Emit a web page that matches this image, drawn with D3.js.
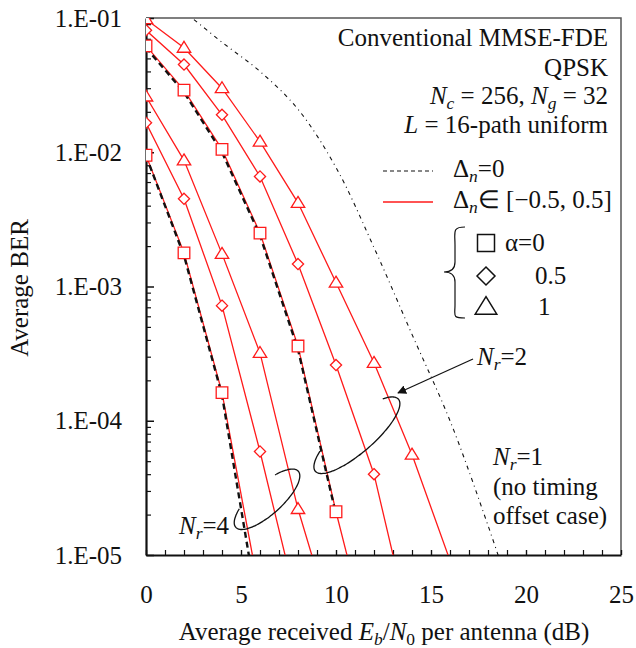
<!DOCTYPE html>
<html>
<head>
<meta charset="utf-8">
<script src="https://cdn.jsdelivr.net/npm/d3@7"></script>
<style>
  body { margin: 0; background: #fff; }
</style>
</head>
<body>
<svg width="636" height="648"></svg>
<script>
const svg = d3.select("svg");
const serif = "'Liberation Serif', serif";

// Eb/N0 grid (dB) used by the simulated curves
const snrDb = [0, 2, 4, 6, 8, 10, 12, 14, 16];
// Nr = 4, delta_n in [-0.5, 0.5]
const nr4Alpha0 = [9.5e-3, 1.78e-3, 1.62e-4, 5e-6];
const nr4Alpha05 = [1.66e-2, 4.5e-3, 7.2e-4, 5.9e-5, 4e-6];
const nr4Alpha1 = [2.6e-2, 8.7e-3, 1.75e-3, 3.2e-4, 2.2e-5, 2.5e-6];
// Nr = 2, delta_n in [-0.5, 0.5]
const nr2Alpha0 = [6.2e-2, 2.9e-2, 1.05e-2, 2.5e-3, 3.6e-4, 2.1e-5, 1.6e-6];
const nr2Alpha05 = [8.1e-2, 4.5e-2, 1.9e-2, 6.6e-3, 1.47e-3, 2.6e-4, 4.0e-5, 2.5e-6];
const nr2Alpha1 = [9.8e-2, 6.0e-2, 3.0e-2, 1.2e-2, 4.2e-3, 1.07e-3, 2.7e-4, 5.6e-5, 9.1e-6];
// delta_n = 0 (dashed)
const nr4Ideal = [9.4e-3, 1.7e-3, 1.55e-4, 3.2e-6];
const nr2Ideal = [6.0e-2, 2.8e-2, 1.0e-2, 2.4e-3, 3.4e-4, 2.0e-5];
// Nr = 1, no timing offset (dash-dot)
const nr1Snr = [2, 4, 6, 8, 10, 12, 14, 16, 18, 19];
const nr1Ber = [0.112, 0.066, 0.040, 0.0209, 7.7e-3, 1.95e-3, 4.4e-4, 1.0e-4, 1.66e-5, 6.3e-6];

const xTicks = [0, 5, 10, 15, 20, 25];
const yTicks = [1e-1, 1e-2, 1e-3, 1e-4, 1e-5];
const yTickLabels = ["1.E-01", "1.E-02", "1.E-03", "1.E-04", "1.E-05"];

const plotL = 146, plotR = 621, plotT = 18, plotB = 555;
const x = d3.scaleLinear().domain([0, 25]).range([plotL, plotR]);
const y = d3.scaleLog().domain([1e-5, 1e-1]).range([plotB, plotT]);
const ink = "#111";

const defs = svg.append("defs");
defs.append("clipPath").attr("id", "plot")
  .append("rect").attr("x", plotL).attr("y", plotT)
  .attr("width", plotR - plotL).attr("height", plotB - plotT);

// frame (top / right)
svg.append("path")
  .attr("d", `M${plotL},${plotT}H${plotR}V${plotB}`)
  .attr("fill", "none").attr("stroke", "#555").attr("stroke-width", 1.5);

function styleAxis(g) {
  g.selectAll("text").attr("font-size", 25).attr("fill", ink);
}

// x axis
const minorX = d3.range(0, 26);
svg.append("g").attr("transform", `translate(0,${plotB})`)
  .call(d3.axisBottom(x).tickValues(minorX).tickSize(-5).tickFormat(""))
  .call(g => g.select(".domain").remove())
  .call(g => g.selectAll("line").attr("stroke", ink).attr("stroke-width", 1.2));
svg.append("g").attr("transform", `translate(0,${plotB})`)
  .call(d3.axisBottom(x).tickValues(xTicks).tickSize(-5).tickSizeOuter(0).tickPadding(30).tickFormat(d3.format("d")))
  .call(styleAxis)
  .call(g => g.select(".domain").attr("stroke", ink).attr("stroke-width", 2.2))
  .call(g => g.selectAll("line").attr("stroke", ink).attr("stroke-width", 1.2));

// y axis
const minorY = [];
[1e-5, 1e-4, 1e-3, 1e-2].forEach(d => d3.range(2, 10).forEach(k => minorY.push(d * k)));
svg.append("g").attr("transform", `translate(${plotL},0)`)
  .call(d3.axisLeft(y).tickValues(minorY).tickSize(-5).tickFormat(""))
  .call(g => g.select(".domain").remove())
  .call(g => g.selectAll("line").attr("stroke", ink).attr("stroke-width", 1.2));
svg.append("g").attr("transform", `translate(${plotL},0)`)
  .call(d3.axisLeft(y).tickValues(yTicks).tickSize(-8).tickSizeOuter(0).tickPadding(24)
    .tickFormat((d, i) => yTickLabels[i]))
  .call(styleAxis)
  .call(g => g.select(".domain").attr("stroke", ink).attr("stroke-width", 2.2))
  .call(g => g.selectAll("line").attr("stroke", ink).attr("stroke-width", 1.5));

// axis titles
svg.append("text")
  .attr("transform", "translate(28,288) rotate(-90)")
  .attr("text-anchor", "middle").attr("font-size", 25).attr("fill", ink)
  .text("Average BER");

function rich(sel, parts) {
  sel.attr("fill", ink);
  parts.forEach(p => {
    const t = sel.append("tspan").text(p.t);
    if (p.i) t.attr("font-style", "italic");
    if (p.sub) t.attr("font-size", "0.7em").attr("dy", "0.28em");
    if (p.up) t.attr("dy", "-0.196em");
  });
  return sel;
}

rich(svg.append("text").attr("x", 384).attr("y", 640).attr("text-anchor", "middle").attr("font-size", 25), [
  { t: "Average received " }, { t: "E", i: true }, { t: "b", i: true, sub: true },
  { t: "/", up: true }, { t: "N", i: true }, { t: "0", sub: true },
  { t: " per antenna (dB)", up: true }
]);

// curves
const line = d3.line().x(d => x(d[0])).y(d => y(d[1]));
const smooth = d3.line().curve(d3.curveCatmullRom).x(d => x(d[0])).y(d => y(d[1]));
const pairs = (xs, ys) => ys.map((v, i) => [xs[i], v]);
const plot = svg.append("g").attr("clip-path", "url(#plot)");

const redSeries = [
  { v: nr4Alpha0, m: "square" }, { v: nr4Alpha05, m: "diamond" }, { v: nr4Alpha1, m: "triangle" },
  { v: nr2Alpha0, m: "square" }, { v: nr2Alpha05, m: "diamond" }, { v: nr2Alpha1, m: "triangle" }
];

plot.append("path").datum(pairs(nr1Snr, nr1Ber)).attr("d", smooth)
  .attr("fill", "none").attr("stroke", ink).attr("stroke-width", 1.1)
  .attr("stroke-dasharray", "4,4,1,4");

plot.selectAll(".red").data(redSeries).enter().append("path")
  .attr("d", s => line(pairs(snrDb, s.v)))
  .attr("fill", "none").attr("stroke", "#ff1a1a").attr("stroke-width", 1.3);

plot.selectAll(".ideal").data([nr4Ideal, nr2Ideal]).enter().append("path")
  .attr("d", v => line(pairs(snrDb, v)))
  .attr("fill", "none").attr("stroke", ink).attr("stroke-width", 2.4)
  .attr("stroke-dasharray", "6,4");

function markerPath(type, s) {
  if (type === "square") return `M${-s},${-s}H${s}V${s}H${-s}Z`;
  if (type === "diamond") return `M0,${-s}L${s},0L0,${s}L${-s},0Z`;
  return `M0,${-s * 1.15}L${s * 1.2},${s * 0.8}L${-s * 1.2},${s * 0.8}Z`;
}
const sizes = { square: 5.8, diamond: 5.6, triangle: 5.6 };

redSeries.forEach(s => {
  plot.selectAll(null).data(pairs(snrDb, s.v).filter(d => d[1] >= 1e-5)).enter()
    .append("path")
    .attr("transform", d => `translate(${x(d[0])},${y(d[1])})`)
    .attr("d", markerPath(s.m, sizes[s.m]))
    .attr("fill", "#fff").attr("stroke", "#ff1a1a").attr("stroke-width", 1.3);
});

// text block
const info = svg.append("g").attr("font-size", 25).attr("fill", ink);
info.append("text").attr("x", 608).attr("y", 46).attr("text-anchor", "end").text("Conventional MMSE-FDE");
info.append("text").attr("x", 608).attr("y", 76).attr("text-anchor", "end").text("QPSK");
rich(info.append("text").attr("x", 608).attr("y", 104).attr("text-anchor", "end"), [
  { t: "N", i: true }, { t: "c", i: true, sub: true }, { t: " = 256, ", up: true },
  { t: "N", i: true }, { t: "g", i: true, sub: true }, { t: " = 32", up: true }
]);
rich(info.append("text").attr("x", 608).attr("y", 133).attr("text-anchor", "end"), [
  { t: "L", i: true }, { t: " = 16-path uniform" }
]);

// legend lines
svg.append("line").attr("x1", 383).attr("x2", 433).attr("y1", 171).attr("y2", 171)
  .attr("stroke", ink).attr("stroke-width", 1.2).attr("stroke-dasharray", "4,3");
svg.append("line").attr("x1", 383).attr("x2", 433).attr("y1", 202).attr("y2", 202)
  .attr("stroke", "#ff1a1a").attr("stroke-width", 1.3);
rich(svg.append("text").attr("x", 453).attr("y", 177).attr("font-size", 25), [
  { t: "Δ" }, { t: "n", i: true, sub: true }, { t: "=0", up: true }
]);
rich(svg.append("text").attr("x", 453).attr("y", 208).attr("font-size", 25), [
  { t: "Δ" }, { t: "n", i: true, sub: true }, { t: "∈ [−0.5, 0.5]", up: true }
]);

// alpha legend
const alphaItems = [
  { m: "square", label: "α=0", lx: 505, yy: 243 },
  { m: "diamond", label: "0.5", lx: 535, yy: 276 },
  { m: "triangle", label: "1", lx: 538, yy: 307 }
];
const leg = svg.append("g");
leg.selectAll("path").data(alphaItems).enter().append("path")
  .attr("transform", d => `translate(486,${d.yy})`)
  .attr("d", d => markerPath(d.m, d.m === "square" ? 8.5 : 9))
  .attr("fill", "none").attr("stroke", ink).attr("stroke-width", 1.5);
leg.selectAll("text").data(alphaItems).enter().append("text")
  .attr("x", d => d.lx).attr("y", d => d.yy + 8).attr("font-size", 25).attr("fill", ink)
  .text(d => d.label);
// brace
leg.append("path")
  .attr("d", "M465,227 C452,227 455,232 455,245 L455,262 C455,268 452,272 444,272 C452,272 455,276 455,282 L455,305 C455,316 452,318 465,318")
  .attr("fill", "none").attr("stroke", ink).attr("stroke-width", 1.2);

// annotations: ellipses around curve groups
function ellipseArc(cx, cy, rx, ry, rot, t0, t1) {
  const r = rot * Math.PI / 180, pts = [];
  for (let t = t0; t <= t1; t += 3) {
    const a = t * Math.PI / 180;
    const ex = rx * Math.cos(a), ey = ry * Math.sin(a);
    pts.push([cx + ex * Math.cos(r) - ey * Math.sin(r), cy + ex * Math.sin(r) + ey * Math.cos(r)]);
  }
  return d3.line().curve(d3.curveCatmullRom)(pts);
}
svg.append("path").attr("d", ellipseArc(x(11.1), y(7.8e-5), 55, 17, -41, -38, 228))
  .attr("fill", "none").attr("stroke", ink).attr("stroke-width", 1.3);
svg.append("path").attr("d", ellipseArc(x(6.37), y(2.6e-5), 42, 15, -42, -58, 232))
  .attr("fill", "none").attr("stroke", ink).attr("stroke-width", 1.3);

// arrow for Nr=2
defs.append("marker").attr("id", "arr")
  .attr("viewBox", "0 0 10 10").attr("refX", 9).attr("refY", 5)
  .attr("markerWidth", 9).attr("markerHeight", 9).attr("orient", "auto")
  .attr("markerUnits", "userSpaceOnUse")
  .append("path").attr("d", "M0,0L10,5L0,10Z").attr("fill", ink);
svg.append("line").attr("x1", 473).attr("y1", 359).attr("x2", 398).attr("y2", 393)
  .attr("stroke", ink).attr("stroke-width", 1.2).attr("marker-end", "url(#arr)");

// curve group labels
rich(svg.append("text").attr("x", 477).attr("y", 365).attr("font-size", 25), [
  { t: "N", i: true }, { t: "r", i: true, sub: true }, { t: "=2", up: true }
]);
rich(svg.append("text").attr("x", 179).attr("y", 534).attr("font-size", 25), [
  { t: "N", i: true }, { t: "r", i: true, sub: true }, { t: "=4", up: true }
]);
rich(svg.append("text").attr("x", 493).attr("y", 465).attr("font-size", 25), [
  { t: "N", i: true }, { t: "r", i: true, sub: true }, { t: "=1", up: true }
]);
svg.append("text").attr("x", 493).attr("y", 495).attr("font-size", 25).attr("fill", ink).text("(no timing");
svg.append("text").attr("x", 493).attr("y", 524).attr("font-size", 25).attr("fill", ink).text("offset case)");

// serif face on every label
svg.selectAll("g").attr("font-family", null);
svg.selectAll("text").attr("font-family", serif);
</script>
</body>
</html>
